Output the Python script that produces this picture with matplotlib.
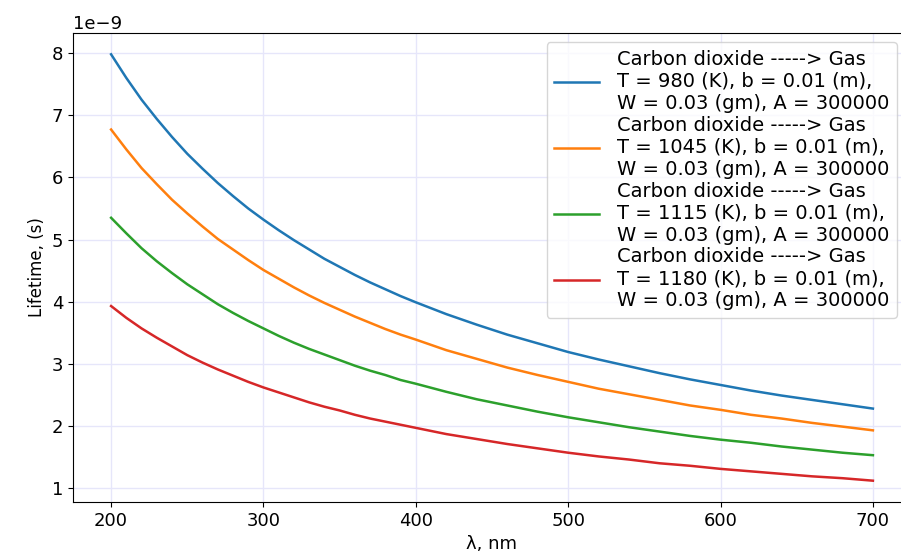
import matplotlib

matplotlib.use("Agg")
import matplotlib.pyplot as plt

# wavelength (nm) and lifetime (units of 1e-9 s)
lam = [200, 210, 220, 230, 240, 250, 260, 270, 280, 290, 300, 310, 320, 330,
       340, 350, 360, 370, 380, 390, 400, 420, 440, 460, 480, 500, 520, 540,
       560, 580, 600, 620, 640, 660, 680, 700]
t980 = [7.98, 7.60, 7.25, 6.94, 6.65, 6.38, 6.14, 5.91, 5.70, 5.50, 5.32,
        5.15, 4.99, 4.84, 4.69, 4.56, 4.43, 4.31, 4.20, 4.09, 3.99, 3.80,
        3.63, 3.47, 3.33, 3.19, 3.07, 2.96, 2.85, 2.75, 2.66, 2.57, 2.49,
        2.42, 2.35, 2.28]
t1045 = [6.77, 6.45, 6.15, 5.89, 5.64, 5.42, 5.21, 5.01, 4.84, 4.67, 4.51,
         4.37, 4.23, 4.10, 3.98, 3.87, 3.76, 3.66, 3.56, 3.47, 3.39, 3.22,
         3.08, 2.94, 2.82, 2.71, 2.60, 2.51, 2.42, 2.33, 2.26, 2.18, 2.12,
         2.05, 1.99, 1.93]
t1115 = [5.35, 5.10, 4.86, 4.65, 4.46, 4.28, 4.12, 3.96, 3.82, 3.69, 3.57,
         3.45, 3.34, 3.24, 3.15, 3.06, 2.97, 2.89, 2.82, 2.74, 2.68, 2.55,
         2.43, 2.33, 2.23, 2.14, 2.06, 1.98, 1.91, 1.84, 1.78, 1.73, 1.67,
         1.62, 1.57, 1.53]
t1180 = [3.93, 3.74, 3.57, 3.42, 3.28, 3.14, 3.02, 2.91, 2.81, 2.71, 2.62,
         2.54, 2.46, 2.38, 2.31, 2.25, 2.18, 2.12, 2.07, 2.02, 1.97, 1.87,
         1.79, 1.71, 1.64, 1.57, 1.51, 1.46, 1.40, 1.36, 1.31, 1.27, 1.23,
         1.19, 1.16, 1.12]
temps = [980, 1045, 1115, 1180]
series = [t980, t1045, t1115, t1180]

plt.rcParams["font.size"] = 13
fig = plt.figure(figsize=(9.01, 5.56), dpi=100)
ax = fig.add_axes([73 / 901, 54 / 556, 838 / 901, 469 / 556])
for T, vals in zip(temps, series):
    ax.plot(lam, [v * 1e-9 for v in vals], lw=1.8,
            label=f"Carbon dioxide -----> Gas\nT = {T} (K), b = 0.01 (m),\n"
                  f"W = 0.03 (gm), A = 300000")
ax.grid(color="lavender", lw=1)
ax.spines["right"].set_visible(False)
ax.set_xlabel("λ, nm")
ax.set_ylabel("Lifetime, (s)", fontsize=12)
ax.legend(loc="upper right", bbox_to_anchor=(0.983, 0.981), fontsize=14,
          labelspacing=0.15, handlelength=2.3, handletextpad=0.9,
          borderpad=0.4, borderaxespad=0)
fig.savefig("out.png", dpi=100)
